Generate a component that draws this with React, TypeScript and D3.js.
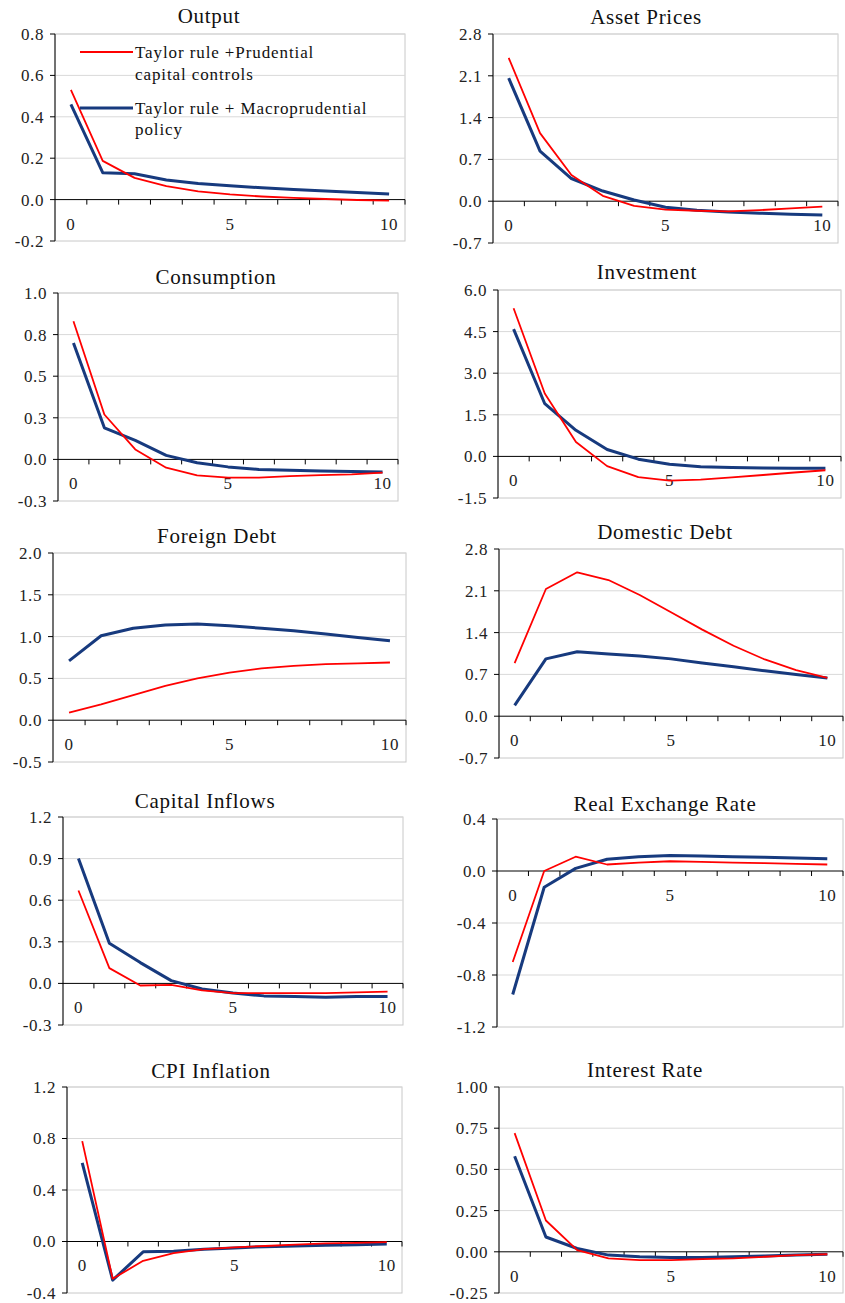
import React from "react";
import * as d3 from "d3";

// periods after the shock
const periods = [0, 1, 2, 3, 4, 5, 6, 7, 8, 9, 10];
const xLabelPeriods = [0, 5, 10];

const seriesNames = [
  ["Taylor rule +Prudential", "capital controls"],
  ["Taylor rule + Macroprudential", "policy"],
];

// red = Taylor rule + prudential capital controls, blue = Taylor rule + macroprudential policy
const outputRed = [0.53, 0.187, 0.105, 0.065, 0.04, 0.025, 0.015, 0.008, 0.003, -0.002, -0.005];
const outputBlue = [0.46, 0.13, 0.125, 0.095, 0.078, 0.067, 0.057, 0.049, 0.041, 0.034, 0.027];
const outputTicks = [-0.2, 0, 0.2, 0.4, 0.6, 0.8];

const assetRed = [2.4, 1.14, 0.44, 0.09, -0.08, -0.14, -0.16, -0.17, -0.15, -0.12, -0.09];
const assetBlue = [2.06, 0.84, 0.38, 0.17, 0.02, -0.1, -0.15, -0.18, -0.2, -0.22, -0.23];
const assetTicks = [-0.7, 0, 0.7, 1.4, 2.1, 2.8];

const consRed = [0.83, 0.27, 0.06, -0.05, -0.096, -0.11, -0.11, -0.1, -0.095, -0.09, -0.08];
const consBlue = [0.7, 0.19, 0.114, 0.024, -0.02, -0.045, -0.06, -0.065, -0.07, -0.072, -0.075];
const consTicks = [-0.25, 0, 0.25, 0.5, 0.75, 1.0];

const invRed = [5.34, 2.27, 0.52, -0.35, -0.75, -0.87, -0.84, -0.76, -0.67, -0.58, -0.5];
const invBlue = [4.59, 1.9, 0.94, 0.25, -0.1, -0.28, -0.37, -0.4, -0.42, -0.43, -0.43];
const invTicks = [-1.5, 0, 1.5, 3.0, 4.5, 6.0];

const fdebtRed = [0.09, 0.19, 0.3, 0.41, 0.5, 0.57, 0.62, 0.65, 0.67, 0.68, 0.69];
const fdebtBlue = [0.71, 1.01, 1.1, 1.14, 1.15, 1.13, 1.1, 1.07, 1.03, 0.99, 0.95];
const fdebtTicks = [-0.5, 0, 0.5, 1.0, 1.5, 2.0];

const ddebtRed = [0.89, 2.13, 2.41, 2.28, 2.03, 1.74, 1.45, 1.18, 0.95, 0.77, 0.64];
const ddebtBlue = [0.18, 0.96, 1.08, 1.04, 1.01, 0.96, 0.89, 0.83, 0.76, 0.7, 0.64];
const ddebtTicks = [-0.7, 0, 0.7, 1.4, 2.1, 2.8];

const capRed = [0.67, 0.11, -0.015, -0.01, -0.05, -0.07, -0.07, -0.07, -0.07, -0.065, -0.06];
const capBlue = [0.9, 0.29, 0.15, 0.02, -0.04, -0.07, -0.09, -0.095, -0.1, -0.095, -0.095];
const capTicks = [-0.3, 0, 0.3, 0.6, 0.9, 1.2];

const rerRed = [-0.7, 0.0, 0.11, 0.05, 0.065, 0.075, 0.07, 0.065, 0.06, 0.055, 0.05];
const rerBlue = [-0.95, -0.125, 0.02, 0.09, 0.11, 0.12, 0.115, 0.11, 0.105, 0.1, 0.095];
const rerTicks = [-1.2, -0.8, -0.4, 0, 0.4];

const cpiRed = [0.78, -0.29, -0.15, -0.09, -0.06, -0.045, -0.035, -0.025, -0.015, -0.01, -0.005];
const cpiBlue = [0.61, -0.3, -0.08, -0.075, -0.06, -0.05, -0.04, -0.035, -0.03, -0.025, -0.02];
const cpiTicks = [-0.4, 0, 0.4, 0.8, 1.2];

const rateRed = [0.72, 0.19, 0.01, -0.04, -0.05, -0.05, -0.045, -0.04, -0.03, -0.02, -0.015];
const rateBlue = [0.58, 0.09, 0.02, -0.02, -0.03, -0.035, -0.035, -0.03, -0.025, -0.02, -0.015];
const rateTicks = [-0.25, 0, 0.25, 0.5, 0.75, 1.0];

const RED = "#ff0000";
const BLUE = "#173a7e";
const FONT = '"Liberation Serif", "DejaVu Serif", serif';

type Box = { l: number; r: number; t: number; b: number; tx: number; ty: number };

interface PanelProps {
  title: string;
  red: number[];
  blue: number[];
  ticks: number[];
  digits: number;
  box: Box;
  legend?: boolean;
}

function Panel({ title, red, blue, ticks, digits, box, legend }: PanelProps) {
  const x = d3.scaleBand<number>().domain(periods).range([box.l, box.r]).padding(0);
  const y = d3.scaleLinear().domain([ticks[0], ticks[ticks.length - 1]]).range([box.b, box.t]);
  const cx = (p: number) => (x(p) as number) + x.bandwidth() / 2;
  const line = d3
    .line<number>()
    .x((_, i) => cx(periods[i]))
    .y((v) => y(v));
  const y0 = y(0);
  const boundaries = periods.slice(1).map((p) => x(p) as number).concat([box.r]);

  return (
    <g style={{ fontFamily: FONT }}>
      <text x={box.tx} y={box.ty} textAnchor="middle" fontSize={21} letterSpacing={0.7} fill="#111">
        {title}
      </text>
      {/* plot frame */}
      <rect x={box.l} y={box.t} width={box.r - box.l} height={box.b - box.t} fill="none" stroke="#c8c8c8" strokeWidth={1} />
      {ticks.map((t) => (
        <g key={t}>
          {t !== 0 && t !== ticks[0] && (
            <line x1={box.l} x2={box.r} y1={y(t)} y2={y(t)} stroke="#d9d9d9" strokeWidth={1} />
          )}
          <line x1={box.l - 5} x2={box.l} y1={y(t)} y2={y(t)} stroke="#000" strokeWidth={1} />
          <text x={box.l - 11} y={y(t)} dy="0.35em" textAnchor="end" fontSize={17} letterSpacing={0.6} fill="#222">
            {t.toFixed(digits)}
          </text>
        </g>
      ))}
      {/* category axis at zero */}
      <line x1={box.l} x2={box.r} y1={y0} y2={y0} stroke="#000" strokeWidth={1} />
      {boundaries.map((bx, i) => (
        <line key={i} x1={bx} x2={bx} y1={y0} y2={y0 + 5} stroke="#000" strokeWidth={1} />
      ))}
      {xLabelPeriods.map((p) => (
        <text key={p} x={cx(p)} y={y0 + 24} dy="0.35em" textAnchor="middle" fontSize={17} letterSpacing={0.6} fill="#222">
          {p}
        </text>
      ))}
      <line x1={box.l} x2={box.l} y1={box.t} y2={box.b} stroke="#000" strokeWidth={1} />
      <path d={line(blue) || ""} fill="none" stroke={BLUE} strokeWidth={3} strokeLinejoin="round" />
      <path d={line(red) || ""} fill="none" stroke={RED} strokeWidth={1.8} strokeLinejoin="round" />
      {legend && (
        <g fontSize={17} letterSpacing={0.9} fill="#111">
          <line x1={80} x2={133} y1={52} y2={52} stroke={RED} strokeWidth={1.8} />
          <text x={135} y={58}>{seriesNames[0][0]}</text>
          <text x={135} y={80}>{seriesNames[0][1]}</text>
          <line x1={80} x2={133} y1={108} y2={108} stroke={BLUE} strokeWidth={3} />
          <text x={135} y={114}>{seriesNames[1][0]}</text>
          <text x={135} y={135}>{seriesNames[1][1]}</text>
        </g>
      )}
    </g>
  );
}

export default function App() {
  return (
    <svg width={845} height={1303} style={{ position: "absolute", left: 0, top: 0, background: "#fff" }}>
      <Panel title="Output" red={outputRed} blue={outputBlue} ticks={outputTicks} digits={1}
        box={{ l: 55, r: 405, t: 34, b: 241, tx: 209, ty: 23 }} legend />
      <Panel title="Asset Prices" red={assetRed} blue={assetBlue} ticks={assetTicks} digits={1}
        box={{ l: 493, r: 838, t: 34, b: 243, tx: 646, ty: 24 }} />
      <Panel title="Consumption" red={consRed} blue={consBlue} ticks={consTicks} digits={1}
        box={{ l: 58, r: 398, t: 293, b: 501, tx: 216, ty: 284 }} />
      <Panel title="Investment" red={invRed} blue={invBlue} ticks={invTicks} digits={1}
        box={{ l: 498, r: 841, t: 290, b: 498, tx: 647, ty: 279 }} />
      <Panel title="Foreign Debt" red={fdebtRed} blue={fdebtBlue} ticks={fdebtTicks} digits={1}
        box={{ l: 53, r: 406, t: 553, b: 762, tx: 217, ty: 543 }} />
      <Panel title="Domestic Debt" red={ddebtRed} blue={ddebtBlue} ticks={ddebtTicks} digits={1}
        box={{ l: 499, r: 843, t: 549, b: 758, tx: 665, ty: 539 }} />
      <Panel title="Capital Inflows" red={capRed} blue={capBlue} ticks={capTicks} digits={1}
        box={{ l: 63, r: 403, t: 817, b: 1025, tx: 205, ty: 808 }} />
      <Panel title="Real Exchange Rate" red={rerRed} blue={rerBlue} ticks={rerTicks} digits={1}
        box={{ l: 497, r: 843, t: 819, b: 1027, tx: 665, ty: 811 }} />
      <Panel title="CPI Inflation" red={cpiRed} blue={cpiBlue} ticks={cpiTicks} digits={1}
        box={{ l: 67, r: 402, t: 1087, b: 1293, tx: 211, ty: 1078 }} />
      <Panel title="Interest Rate" red={rateRed} blue={rateBlue} ticks={rateTicks} digits={2}
        box={{ l: 499, r: 843, t: 1087, b: 1293, tx: 645, ty: 1077 }} />
    </svg>
  );
}
